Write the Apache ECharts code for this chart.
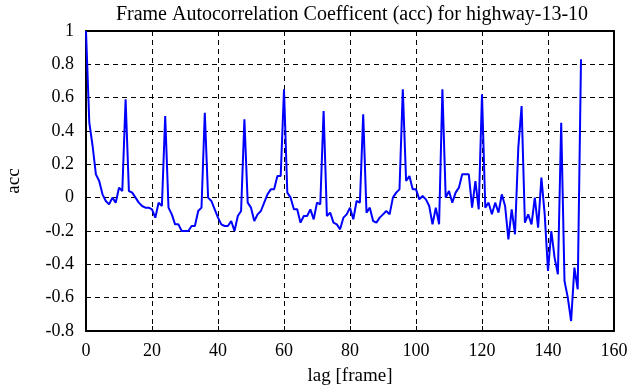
<!DOCTYPE html>
<html>
<head>
<meta charset="utf-8">
<script src="https://cdn.jsdelivr.net/npm/echarts@6/dist/echarts.min.js"></script>
<style>
  html, body { margin: 0; padding: 0; background: #fff; }
  #chartBox { width: 641px; height: 387px; }
</style>
</head>
<body>
<div id="chartBox"></div>
<script>
// 数据：lag 0..150 的自相关系数
var lagStart = 0;
var accValues = [
  1.0, 0.45, 0.31, 0.14, 0.1, 0.02, -0.02, -0.04, 0.0, -0.03,
  0.06, 0.04, 0.59, 0.04, 0.03, 0.0, -0.03, -0.05, -0.06, -0.06,
  -0.07, -0.12, -0.03, -0.05, 0.49, -0.06, -0.1, -0.16, -0.16, -0.2,
  -0.2, -0.2, -0.17, -0.17, -0.08, -0.06, 0.51, 0.0, -0.02, -0.07,
  -0.12, -0.16, -0.17, -0.17, -0.14, -0.2, -0.11, -0.08, 0.47, -0.03,
  -0.06, -0.14, -0.1, -0.08, -0.03, 0.02, 0.05, 0.05, 0.13, 0.13,
  0.65, 0.03, 0.0, -0.07, -0.07, -0.15, -0.11, -0.11, -0.07, -0.13,
  -0.03, -0.04, 0.52, -0.11, -0.09, -0.15, -0.16, -0.19, -0.12, -0.1,
  -0.06, -0.13, -0.02, -0.03, 0.5, -0.09, -0.06, -0.14, -0.15, -0.12,
  -0.1, -0.08, -0.1, 0.0, 0.03, 0.05, 0.65, 0.1, 0.13, 0.05,
  0.05, -0.01, 0.01, -0.01, -0.05, -0.16, -0.06, -0.16, 0.65, 0.0,
  0.04, -0.03, 0.03, 0.06, 0.14, 0.14, 0.14, -0.06, 0.1, -0.07,
  0.62, -0.06, -0.03, -0.1, -0.03, -0.09, 0.02, -0.05, -0.25, -0.07,
  -0.22, 0.3, 0.55, -0.15, -0.1, -0.16, 0.0, -0.18, 0.12, -0.1,
  -0.44, -0.2, -0.36, -0.46, 0.45, -0.5, -0.6, -0.74, -0.42, -0.55,
  0.83
];
var xTicks = [0, 20, 40, 60, 80, 100, 120, 140, 160];
var yTicks = [-0.8, -0.6, -0.4, -0.2, 0, 0.2, 0.4, 0.6, 0.8, 1];

var chartData = accValues.map(function (v, i) { return [lagStart + i, v]; });

var chart = echarts.init(document.getElementById('chartBox'));
var serif = 'Liberation Serif';
var dashLine = { show: true, lineStyle: { color: '#000', type: [5, 4], width: 1 } };
var tickIn = { show: true, inside: true, length: 5, lineStyle: { color: '#000', width: 1 } };
var frameLine = { show: true, onZero: false, lineStyle: { color: '#000', width: 2 } };

var option = {
  animation: false,
  backgroundColor: '#fff',
  title: {
    text: 'Frame Autocorrelation Coefficent (acc) for highway-13-10',
    left: 347, top: 0, textAlign: 'center',
    textStyle: { fontFamily: serif, fontSize: 20, fontWeight: 'normal', color: '#000' }
  },
  grid: { left: 86, right: 27, top: 31, bottom: 56, outerBoundsMode: 'none' },
  xAxis: [{
    type: 'value', min: xTicks[0], max: xTicks[xTicks.length - 1], interval: 20,
    name: 'lag [frame]', nameLocation: 'middle', nameGap: 36,
    nameTextStyle: { fontFamily: serif, fontSize: 19, color: '#000' },
    axisLine: frameLine,
    axisTick: tickIn,
    axisLabel: { fontFamily: serif, fontSize: 18, color: '#000', margin: 11 },
    splitLine: dashLine
  }, {
    type: 'value', position: 'top', min: xTicks[0], max: xTicks[xTicks.length - 1], interval: 20,
    axisLine: frameLine,
    axisTick: tickIn,
    axisLabel: { show: false }, splitLine: { show: false }
  }],
  yAxis: [{
    type: 'value', min: yTicks[0], max: yTicks[yTicks.length - 1], interval: 0.2,
    name: 'acc', nameLocation: 'middle', nameGap: 62, nameRotate: 90,
    nameTextStyle: { fontFamily: serif, fontSize: 19, color: '#000' },
    axisLine: frameLine,
    axisTick: tickIn,
    axisLabel: {
      fontFamily: serif, fontSize: 18, color: '#000', margin: 12,
      formatter: function (v) { return String(Math.round(v * 10) / 10); }
    },
    splitLine: dashLine
  }, {
    type: 'value', position: 'right', min: yTicks[0], max: yTicks[yTicks.length - 1], interval: 0.2,
    axisLine: frameLine,
    axisTick: tickIn,
    axisLabel: { show: false }, splitLine: { show: false }
  }],
  series: [{
    type: 'line',
    data: chartData,
    showSymbol: false,
    clip: true,
    lineStyle: { color: '#0000ff', width: 2 },
    itemStyle: { color: '#0000ff' }
  }]
};

chart.setOption(option);
window.addEventListener('resize', function () { chart.resize(); });
</script>
</body>
</html>
